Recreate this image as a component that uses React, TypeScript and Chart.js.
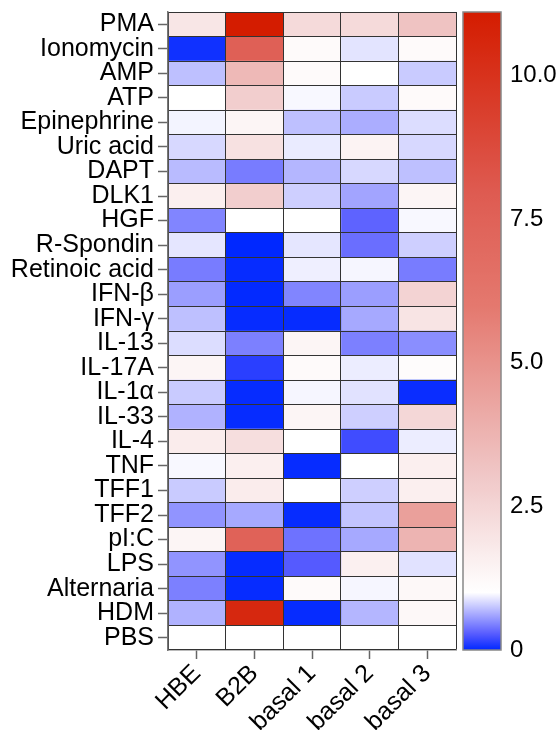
import { useEffect, useRef } from 'react';
import { Chart, registerables } from 'chart.js';

Chart.register(...registerables);

const ROWS = ['PMA', 'Ionomycin', 'AMP', 'ATP', 'Epinephrine', 'Uric acid', 'DAPT', 'DLK1', 'HGF', 'R-Spondin', 'Retinoic acid', 'IFN-β', 'IFN-γ', 'IL-13', 'IL-17A', 'IL-1α', 'IL-33', 'IL-4', 'TNF', 'TFF1', 'TFF2', 'pI:C', 'LPS', 'Alternaria', 'HDM', 'PBS'];
const COLUMNS = ['HBE', 'B2B', 'basal 1', 'basal 2', 'basal 3'];

const HBE = [1.9, 0.05, 0.72, 1.0, 0.95, 0.83, 0.7, 1.6, 0.46, 0.89, 0.42, 0.57, 0.72, 0.85, 1.36, 0.77, 0.66, 1.7, 0.97, 0.77, 0.53, 1.36, 0.53, 0.44, 0.66, 1.0];
const B2B = [11.1, 7.6, 3.56, 2.8, 1.36, 2.1, 0.42, 2.8, 1.0, 0.0, 0.02, 0.01, 0.02, 0.44, 0.13, 0.02, 0.02, 2.2, 1.6, 1.7, 0.62, 7.5, 0.02, 0.02, 10.5, 1.0];
const BASAL1 = [2.35, 1.2, 1.2, 0.97, 0.72, 0.91, 0.68, 0.79, 1.0, 0.89, 0.93, 0.46, 0.02, 1.36, 1.2, 0.96, 1.36, 1.0, 0.02, 1.0, 0.02, 0.38, 0.27, 1.2, 0.02, 1.0];
const BASAL2 = [2.35, 0.88, 1.0, 0.77, 0.64, 1.44, 0.83, 0.6, 0.31, 0.36, 0.96, 0.57, 0.62, 0.44, 0.92, 0.87, 0.79, 0.2, 1.0, 0.79, 0.74, 0.62, 1.55, 0.96, 0.68, 1.0];
const BASAL3 = [3.19, 1.2, 0.77, 1.2, 0.85, 0.83, 0.72, 1.36, 0.97, 0.79, 0.42, 2.6, 2.0, 0.5, 1.1, 0.03, 2.45, 0.92, 1.6, 1.6, 4.5, 3.75, 0.87, 1.25, 1.25, 1.0];
const SERIES = [HBE, B2B, BASAL1, BASAL2, BASAL3];

const CB_MIN = 0;
const CB_MAX = 11.1;
const CB_TICKS = [0, 2.5, 5, 7.5, 10];

const COLOR_STOPS: [number, number[]][] = [
  [0, [0, 40, 255]],
  [0.25, [80, 85, 255]],
  [1, [255, 255, 255]],
  [3, [240, 200, 200]],
  [6, [228, 120, 110]],
  [8, [222, 90, 80]],
  [11.1, [212, 28, 0]],
];

function colorFor(v: number): string {
  if (v <= COLOR_STOPS[0][0]) {
    const c = COLOR_STOPS[0][1];
    return `rgb(${c[0]},${c[1]},${c[2]})`;
  }
  for (let i = 1; i < COLOR_STOPS.length; i++) {
    const [v1, c1] = COLOR_STOPS[i];
    const [v0, c0] = COLOR_STOPS[i - 1];
    if (v <= v1) {
      const t = (v - v0) / (v1 - v0);
      const c = c0.map((x, k) => Math.round(x + (c1[k] - x) * t));
      return `rgb(${c[0]},${c[1]},${c[2]})`;
    }
  }
  const c = COLOR_STOPS[COLOR_STOPS.length - 1][1];
  return `rgb(${c[0]},${c[1]},${c[2]})`;
}

const FONT = "'Liberation Sans', Arial, Helvetica, sans-serif";

const colorbarPlugin = {
  id: 'colorbar',
  afterDraw(chart: any) {
    const s = chart.scales.cb;
    if (!s) return;
    const ctx = chart.ctx;
    const x0 = s.left + 7;
    const w = 38;
    const yTop = s.getPixelForValue(CB_MAX);
    const yBot = s.getPixelForValue(CB_MIN);
    const g = ctx.createLinearGradient(0, yBot, 0, yTop);
    for (let v = CB_MIN; v <= CB_MAX + 1e-9; v += 0.1) {
      g.addColorStop(Math.min(1, (v - CB_MIN) / (CB_MAX - CB_MIN)), colorFor(v));
    }
    ctx.save();
    ctx.fillStyle = g;
    ctx.fillRect(x0, yTop, w, yBot - yTop);
    ctx.strokeStyle = '#888';
    ctx.lineWidth = 1.5;
    ctx.strokeRect(x0, yTop, w, yBot - yTop);
    ctx.restore();
  },
};

export default function App() {
  const ref = useRef<HTMLCanvasElement>(null);
  useEffect(() => {
    document.body.style.margin = '0';
    const half = (v: number) => Math.abs((v % 1) - 0.5) < 1e-6;
    const chart = new Chart(ref.current!, {
      type: 'bar',
      data: {
        labels: ROWS,
        datasets: SERIES.map((vals, i) => ({
          label: COLUMNS[i],
          data: vals.map(() => 1),
          backgroundColor: vals.map((v) => colorFor(v)),
          borderWidth: 0,
          barPercentage: 1,
          categoryPercentage: 1,
          xAxisID: 'x',
          yAxisID: 'y',
        })),
      },
      options: {
        indexAxis: 'y',
        animation: false,
        responsive: true,
        maintainAspectRatio: false,
        devicePixelRatio: 1,
        layout: { padding: { left: 10, top: 12, right: 0, bottom: 0 } },
        plugins: { legend: { display: false }, tooltip: { enabled: false } },
        scales: {
          x: {
            type: 'linear',
            stacked: true,
            offset: false,
            min: 0,
            max: COLUMNS.length,
            afterBuildTicks: (s: any) => {
              const t = [];
              for (let v = 0; v <= COLUMNS.length + 1e-9; v += 0.5) t.push({ value: v });
              s.ticks = t;
            },
            afterFit: (s: any) => {
              s.height = 80;
              s.paddingLeft = 0;
              s.paddingRight = 0;
            },
            grid: {
              z: 1,
              offset: false,
              color: (c: any) => (c.tick && half(c.tick.value) ? 'rgba(0,0,0,0)' : '#333'),
              tickColor: (c: any) => (c.tick && half(c.tick.value) ? '#666' : 'rgba(0,0,0,0)'),
              tickLength: 9,
              lineWidth: 1,
              tickWidth: 1.5,
            },
            border: { display: true, color: '#777', width: 1.5, z: 1 },
            ticks: {
              autoSkip: false,
              maxRotation: 45,
              minRotation: 45,
              padding: 0,
              color: '#000',
              font: { family: FONT, size: 25 },
              callback: (v: any) => (half(Number(v)) ? COLUMNS[Math.floor(Number(v))] : ''),
            },
          },
          y: {
            type: 'category',
            stacked: true,
            position: 'left',
            offset: true,
            afterFit: (s: any) => {
              s.width = 158;
              s.paddingTop = 0;
              s.paddingBottom = 0;
            },
            grid: {
              offset: false,
              drawOnChartArea: false,
              tickLength: 10,
              tickColor: '#666',
              tickWidth: 1.5,
            },
            border: { display: true, color: '#777', width: 1.5, z: 2 },
            ticks: {
              autoSkip: false,
              padding: 4,
              color: '#000',
              font: { family: FONT, size: 25 },
            },
          },
          y2: {
            type: 'category',
            labels: ROWS,
            position: 'left',
            offset: true,
            afterFit: (s: any) => {
              s.width = 0;
              s.paddingTop = 0;
              s.paddingBottom = 0;
            },
            grid: { offset: true, z: 1, color: '#333', lineWidth: 1, drawTicks: false },
            border: { display: false },
            ticks: { display: false },
          },
          cb: {
            type: 'linear',
            position: 'right',
            offset: false,
            min: CB_MIN,
            max: CB_MAX,
            afterBuildTicks: (s: any) => {
              s.ticks = CB_TICKS.map((v) => ({ value: v }));
            },
            afterFit: (s: any) => {
              s.width = 100;
              s.paddingTop = 0;
              s.paddingBottom = 0;
            },
            grid: { display: false, drawTicks: false, offset: false },
            border: { display: false },
            ticks: {
              padding: 54,
              color: '#000',
              font: { family: FONT, size: 24 },
              callback: (v: any) => (Number(v) === 0 ? '0' : Number(v).toFixed(1)),
            },
          },
        },
      } as any,
      plugins: [colorbarPlugin],
    });
    return () => chart.destroy();
  }, []);
  return (
    <div style={{ position: 'relative', width: 556, height: 730 }}>
      <canvas ref={ref} />
    </div>
  );
}
